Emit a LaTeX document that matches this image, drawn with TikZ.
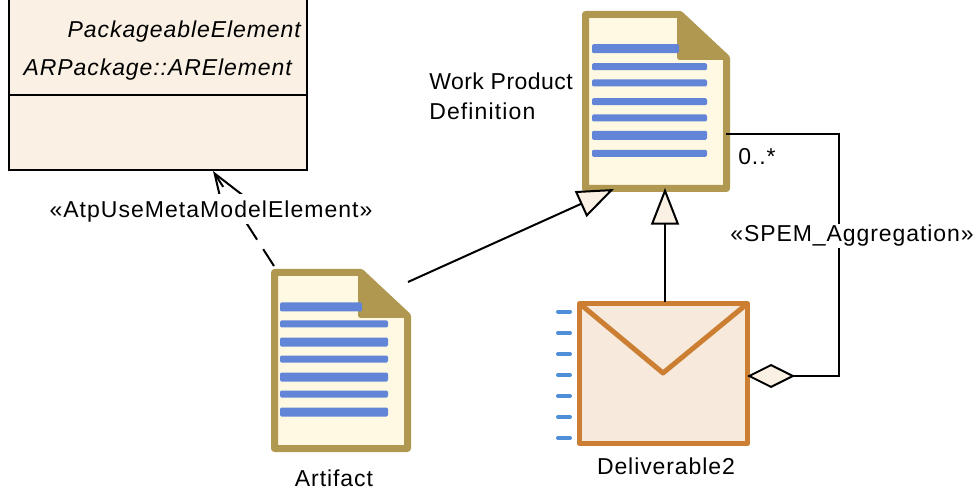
\documentclass[tikz,border=0pt]{standalone}
\usepackage{fontspec}
\setmainfont{Liberation Sans}[LetterSpace=4]
\usetikzlibrary{arrows.meta,calc}
\definecolor{docedge}{HTML}{B09850}
\definecolor{docfill}{HTML}{FFF9E3}
\definecolor{docbar}{HTML}{6285D8}
\definecolor{envedge}{HTML}{CC7F33}
\definecolor{envfill}{HTML}{F7EADD}
\definecolor{tickblue}{HTML}{4F8FD9}
\definecolor{clsfill}{HTML}{FAF1E4}
\newcommand{\docicon}[4]{% left, top, right, bottom (outer)
  \draw[docedge,fill=docfill,line width=5.25pt,line join=round]
    (#1+3.5,#2+3.5) -- (#3-50,#2+3.5) -- (#3-3.5,#2+47) -- (#3-3.5,#4-3.5) -- (#1+3.5,#4-3.5) -- cycle;
  \fill[docedge,rounded corners=2pt] (#3-53,#2+3) -- (#3-50,#2+3) -- (#3-2,#2+47) -- (#3-2,#2+49) -- (#3-53,#2+49) -- cycle;
}
\newcommand{\docbar}[4]{\fill[docbar,rounded corners=1pt] (#1,#3-#4/2) rectangle (#2,#3+#4/2);}
\tikzset{
  x=0.75pt,y=-0.75pt,
  txt/.style={font=\fontsize{17.25pt}{20pt}\selectfont,inner sep=0pt,text=black},
  itxt/.style={txt,font=\fontsize{17.25pt}{20pt}\selectfont\itshape},
  lab/.style={txt,fill=white,inner xsep=1pt,inner ysep=1pt},
  port/.style={inner sep=0pt,minimum size=0pt},
  conn/.style={line width=1.5pt,black},
  envline/.style={envedge,line width=3.75pt,line join=round},
  tick/.style={tickblue,line width=3pt,line cap=round},
  gentip/.style={-{Triangle[length=27.5pt,width=21pt,fill=clsfill,line width=1.5pt]}},
  aggtip/.style={-{Diamond[length=36pt,width=18pt,fill=clsfill,line width=1.5pt]}},
  deptip/.style={-{Straight Barb[length=28pt,width=20pt,line width=1.5pt]}},
}
\begin{document}
\begin{tikzpicture}
\useasboundingbox (0,0) rectangle (977,491);
\fill[white] (0,0) rectangle (977,491);
% class
\draw[line width=1.5pt,fill=clsfill] (9,-2) rectangle (307,170);
\draw[line width=1.5pt] (9,95) -- (307,95);
\node[itxt,anchor=east] (pe) at (301,32) {PackageableElement};
\node[itxt,anchor=east] (are) at (292,70) {ARPackage::ARElement};
\node[port] (cls) at (213,171) {};
% work product
\docicon{582}{11}{730}{192}
\docbar{592}{679}{48.7}{9}
\foreach \y/\h in {66.7/7,83/7,101.7/7,118/7,135.3/9,153.3/7}{\docbar{592}{707}{\y}{\h}}
% artifact
\docicon{271}{269}{411}{452}
\docbar{280}{362}{307}{9}
\foreach \y/\h in {324/7,342/9,359/7,377/9,394/7,412/9}{\docbar{280}{388}{\y}{\h}}
% envelope
\draw[envline,fill=envfill] (579.5,303.5) rectangle (747.5,443.5);
\draw[envline] (579.5,303.5) -- (663,373) -- (747.5,303.5);
\foreach \y in {311.7,333,354,375,396,417,438}{\draw[tick] (558,\y) -- (570,\y);}
% ports
\node[port] (wpgen) at (614,189) {};
\node[port] (wpup) at (665,188) {};
\node[port] (wpagg) at (726,134) {};
\node[port] (artdep) at (274,266) {};
\node[port] (artgen) at (408,282) {};
\node[port] (envup) at (665,302) {};
\node[port] (envagg) at (747,376) {};
\coordinate (c1) at (839,134);
\coordinate (c2) at (839,376);
% connectors
\draw[conn,deptip,dash pattern=on 15pt off 8.5pt] (artdep.center) -- (cls.center);
\draw[conn,gentip] (artgen.center) -- (wpgen.center);
\draw[conn,gentip] (envup.center) -- (wpup.center);
\draw[conn,aggtip] (wpagg.center) -- (c1) -- (c2) -- (envagg.center);
% labels
\node[lab,anchor=base,inner ysep=0pt,text height=18pt,text depth=4.5pt] (dep) at (211,218) {\addfontfeature{LetterSpace=4.5}«AtpUseMetaModelElement»};
\node[lab] (agg) at (852,236) {«SPEM\_Aggregation»};
\node[txt,anchor=west] (mult) at (738,157) {0..*};
\node[txt,anchor=west] (wp1) at (429,81) {\addfontfeature{LetterSpace=2}Work Product};
\node[txt,anchor=west] (wp2) at (429,111) {\addfontfeature{LetterSpace=5}Definition};
\node[txt] (artl) at (334,478) {Artifact};
\node[txt] (envl) at (666,466) {Deliverable2};
\end{tikzpicture}
\end{document}
